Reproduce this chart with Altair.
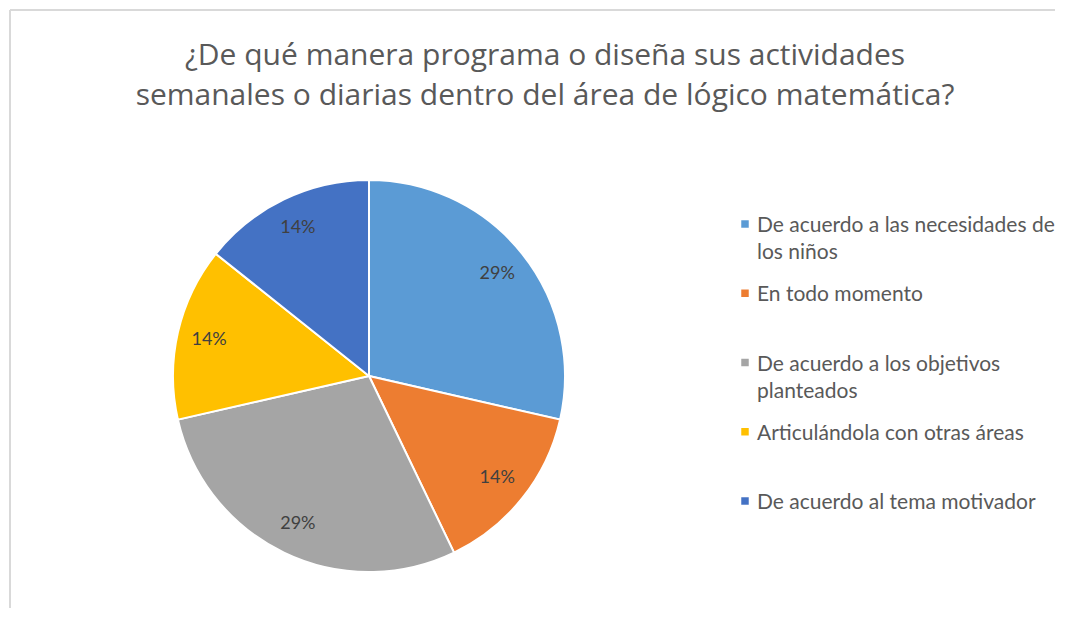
import altair as alt
import pandas as pd

# ---- data ----
categorias = [
    "De acuerdo a las necesidades de los niños",
    "En todo momento",
    "De acuerdo a los objetivos planteados",
    "Articulándola con otras áreas",
    "De acuerdo al tema motivador",
]
etiquetas_leyenda = [
    "De acuerdo a las necesidades de\nlos niños",
    "En todo momento",
    "De acuerdo a los objetivos\nplanteados",
    "Articulándola con otras áreas",
    "De acuerdo al tema motivador",
]
respuestas = [2, 1, 2, 1, 1]
colores = ["#5B9BD5", "#ED7D31", "#A5A5A5", "#FFC000", "#4472C4"]
titulo = [
    "¿De qué manera programa o diseña sus actividades",
    "semanales o diarias dentro del área de lógico matemática?",
]

FONT = "Lato"
W, H = 1045, 598
CX, CY, R = 359, 366, 196

df = pd.DataFrame({
    "categoria": categorias,
    "leyenda": etiquetas_leyenda,
    "respuestas": respuestas,
    "orden": list(range(len(categorias))),
})

base = alt.Chart(df).transform_joinaggregate(
    total="sum(respuestas)"
).transform_calculate(
    pct="datum.respuestas / datum.total"
)

color = alt.Color("categoria:N", scale=alt.Scale(domain=categorias, range=colores), legend=None)
theta = alt.Theta("respuestas:Q", stack=True)
order = alt.Order("orden:Q")

pie = base.mark_arc(outerRadius=R, stroke="white", strokeWidth=2).encode(
    theta=theta, order=order, color=color,
    x=alt.value(CX), y=alt.value(CY),
)

etiquetas = base.mark_text(radius=164, fontSize=18, font=FONT, color="#404040").encode(
    theta=theta, order=order,
    text=alt.Text("pct:Q", format=".0%"),
    x=alt.value(CX), y=alt.value(CY),
)

ley_y = alt.Y("categoria:N", scale=alt.Scale(type="point", domain=categorias, range=[205, 482], padding=0), axis=None)

ley_cuadros = base.mark_square(size=56, filled=True, opacity=1, yOffset=9).encode(
    x=alt.value(735), y=ley_y, color=color,
)
ley_textos = base.mark_text(
    align="left", baseline="top", lineBreak="\n", fontSize=21, lineHeight=27,
    font=FONT, color="#595959",
).encode(x=alt.value(747), y=ley_y, text="leyenda:N")

titulo_df = pd.DataFrame({"texto": ["\n".join(titulo)]})
titulo_txt = alt.Chart(titulo_df).mark_text(
    align="center", baseline="top", lineBreak="\n", fontSize=30, lineHeight=40,
    font="Open Sans", color="#595959",
).encode(x=alt.value(535), y=alt.value(31), text="texto:N")

marco_df = pd.DataFrame({"k": [0]})
marco_sup = alt.Chart(marco_df).mark_rule(color="#d9d9d9", strokeWidth=2).encode(
    x=alt.value(0), x2=alt.value(W), y=alt.value(0)
)
marco_izq = alt.Chart(marco_df).mark_rule(color="#d9d9d9", strokeWidth=2).encode(
    x=alt.value(0), y=alt.value(0), y2=alt.value(H)
)

chart = alt.layer(
    marco_sup, marco_izq, pie, etiquetas, ley_cuadros, ley_textos, titulo_txt
).properties(
    width=W, height=H,
    autosize=alt.AutoSizeParams(type="none"),
    padding={"left": 2, "top": 2, "right": 0, "bottom": 0},
    background="white",
).configure_view(stroke=None)

chart.save("out.html", embed_options={"renderer": "svg", "actions": False})
